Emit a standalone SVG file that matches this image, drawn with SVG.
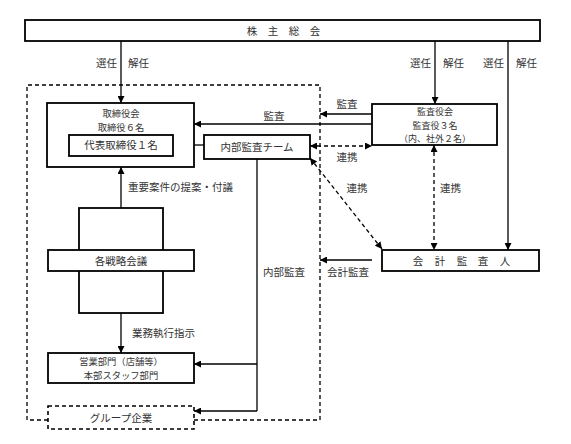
<svg xmlns="http://www.w3.org/2000/svg" width="571" height="444" viewBox="0 0 571 444">
<style>
text{font-family:"Noto Sans CJK JP","Noto Sans",sans-serif;font-size:10.5px;fill:#333;}
.c{text-anchor:middle;}
.s{font-size:9.3px;}
.t{font-size:9px;}
.box{fill:#fff;stroke:#000;stroke-width:1.8;}
.dbox{fill:#fff;stroke:#000;stroke-width:1.6;stroke-dasharray:4 3;}
.ln{fill:none;stroke:#000;stroke-width:1.3;}
.dl{fill:none;stroke:#000;stroke-width:1.3;stroke-dasharray:4 3;}
</style>
<defs>
<marker id="ah" viewBox="0 0 8 8" refX="8" refY="4" markerWidth="7" markerHeight="7" markerUnits="userSpaceOnUse" orient="auto-start-reverse">
<path d="M0,0 L8,4 L0,8 z" fill="#000"/>
</marker>
</defs>
<rect width="571" height="444" fill="#fff"/>
<g id="group-outline">
<path d="M48,420 H27 V85 H320 V420 H194" class="dl" stroke-width="1.6"/>
</g>
<g id="connectors">
<line x1="121" y1="41" x2="121" y2="103" class="ln" marker-end="url(#ah)"/>
<line x1="435" y1="41" x2="435" y2="104" class="ln" marker-end="url(#ah)"/>
<line x1="508" y1="41" x2="508" y2="250" class="ln" marker-end="url(#ah)"/>
<line x1="372" y1="114" x2="320" y2="114" class="ln" marker-end="url(#ah)"/>
<line x1="372" y1="124" x2="194" y2="124" class="ln" marker-end="url(#ah)"/>
<line x1="173" y1="145" x2="204" y2="145" class="ln"/>
<line x1="310" y1="146" x2="372" y2="146" class="dl" marker-start="url(#ah)" marker-end="url(#ah)"/>
<line x1="310" y1="158" x2="382" y2="249" class="dl" marker-start="url(#ah)" marker-end="url(#ah)"/>
<line x1="434" y1="145" x2="434" y2="250" class="dl" marker-start="url(#ah)" marker-end="url(#ah)"/>
<line x1="372" y1="260" x2="320" y2="260" class="ln" marker-end="url(#ah)"/>
<line x1="121" y1="208" x2="121" y2="167" class="ln" marker-end="url(#ah)"/>
<line x1="121" y1="313" x2="121" y2="353" class="ln" marker-end="url(#ah)"/>
<path d="M257,159 V411" class="ln"/>
<line x1="257" y1="364" x2="194" y2="364" class="ln" marker-end="url(#ah)"/>
<line x1="257" y1="411" x2="194" y2="411" class="ln" marker-end="url(#ah)"/>
</g>
<g id="labels">
<text x="117" y="67" text-anchor="end">選任</text>
<text x="128" y="67">解任</text>
<text x="431" y="67" text-anchor="end">選任</text>
<text x="443" y="67">解任</text>
<text x="504" y="67" text-anchor="end">選任</text>
<text x="516" y="67">解任</text>
<text x="347" y="108" class="c">監査</text>
<text x="274" y="120" class="c">監査</text>
<text x="347" y="161" class="c">連携</text>
<text x="357" y="192" class="c">連携</text>
<text x="440" y="192">連携</text>
<text x="128" y="191">重要案件の提案・付議</text>
<text x="263" y="276">内部監査</text>
<text x="327" y="276">会計監査</text>
<text x="132" y="337">業務執行指示</text>
</g>
<g id="shareholders">
<rect x="25" y="20" width="515" height="21" class="box"/>
<text x="252 273 294 315" y="35" class="c">株主総会</text>
</g>
<g id="board">
<rect x="47" y="103" width="147" height="64" class="box"/>
<text x="121" y="116.5" class="c s">取締役会</text>
<text x="121" y="130.5" class="c s">取締役６名</text>
</g>
<g id="representative">
<rect x="69" y="135" width="104" height="21" class="box"/>
<text x="121" y="149" class="c">代表取締役１名</text>
</g>
<g id="internal-audit-team">
<rect x="204" y="135" width="106" height="24" class="box"/>
<text x="257" y="151" class="c">内部監査チーム</text>
</g>
<g id="audit-board">
<rect x="372" y="104" width="125" height="41" class="box"/>
<text x="435" y="115.3" class="c t">監査役会</text>
<text x="435" y="128.5" class="c t">監査役３名</text>
<text x="435" y="141.7" class="c t">（内、社外２名）</text>
</g>
<g id="accounting-auditor">
<rect x="382" y="250" width="157" height="21" class="box"/>
<text x="418 440 462 483 505" y="265" class="c">会計監査人</text>
</g>
<g id="strategy-meetings">
<rect x="79" y="208" width="84" height="105" class="box"/>
<rect x="48" y="250" width="146" height="21" class="box"/>
<text x="121" y="265" class="c">各戦略会議</text>
</g>
<g id="business-units">
<rect x="48" y="353" width="146" height="30" class="box"/>
<text x="121" y="365" class="c s">営業部門（店舗等）</text>
<text x="121" y="378.5" class="c s">本部スタッフ部門</text>
</g>
<g id="group-companies">
<rect x="48" y="406" width="146" height="23" class="dbox"/>
<text x="121" y="422" class="c">グループ企業</text>
</g>
</svg>
